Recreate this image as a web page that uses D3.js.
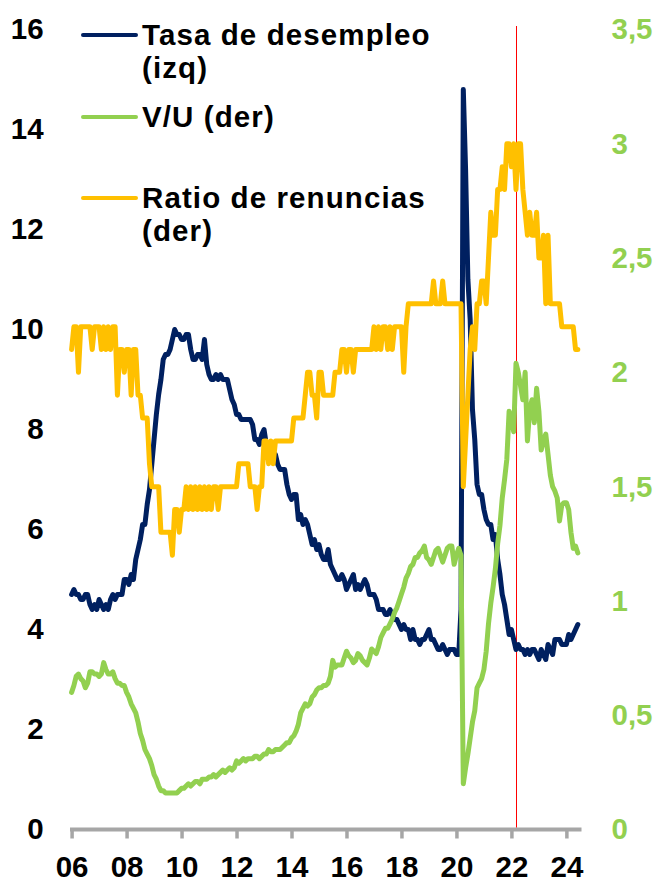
<!DOCTYPE html>
<html>
<head>
<meta charset="utf-8">
<script src="https://cdn.jsdelivr.net/npm/d3@7"></script>
<style>
    body { margin: 0; background: #fff; }
    svg { display: block; }
    text { font-family: "Liberation Sans", Arial, sans-serif; font-weight: bold; }
</style>
</head>
<body>
<div id="chart"></div>
<script>
'use strict';

// Monthly data, starting January 2006.
var startYear = 2006;

// Tasa de desempleo (%), left axis
var unemployment = [
    4.7, 4.8, 4.7, 4.7, 4.6, 4.6, 4.7, 4.7, 4.5, 4.4, 4.5, 4.4,
    4.6, 4.5, 4.4, 4.5, 4.4, 4.6, 4.7, 4.6, 4.7, 4.7, 4.7, 5.0,
    5.0, 4.9, 5.1, 5.0, 5.4, 5.6, 5.8, 6.1, 6.1, 6.5, 6.8, 7.3,
    7.8, 8.3, 8.7, 9.0, 9.4, 9.5, 9.5, 9.6, 9.8, 10.0, 9.9, 9.9,
    9.8, 9.8, 9.9, 9.9, 9.6, 9.4, 9.4, 9.5, 9.5, 9.4, 9.8, 9.3,
    9.1, 9.0, 9.0, 9.1, 9.0, 9.1, 9.0, 9.0, 9.0, 8.8, 8.6, 8.5,
    8.3, 8.3, 8.2, 8.2, 8.2, 8.2, 8.2, 8.1, 7.8, 7.8, 7.7, 7.9,
    8.0, 7.7, 7.5, 7.6, 7.5, 7.5, 7.3, 7.2, 7.2, 7.2, 6.9, 6.7,
    6.6, 6.7, 6.7, 6.2, 6.3, 6.1, 6.2, 6.1, 5.9, 5.7, 5.8, 5.6,
    5.7, 5.5, 5.4, 5.4, 5.6, 5.3, 5.2, 5.1, 5.0, 5.0, 5.1, 5.0,
    4.8, 4.9, 5.0, 5.1, 4.8, 4.9, 4.8, 4.9, 5.0, 4.9, 4.7, 4.7,
    4.7, 4.6, 4.4, 4.4, 4.4, 4.3, 4.3, 4.4, 4.3, 4.2, 4.2, 4.1,
    4.0, 4.1, 4.0, 4.0, 3.8, 4.0, 3.8, 3.8, 3.7, 3.8, 3.8, 3.9,
    4.0, 3.8, 3.8, 3.7, 3.6, 3.6, 3.7, 3.6, 3.5, 3.6, 3.6, 3.6,
    3.5, 3.5, 4.4, 14.8, 13.2, 11.0, 10.2, 8.4, 7.8, 6.9, 6.7, 6.7,
    6.4, 6.2, 6.1, 6.1, 5.8, 5.9, 5.4, 5.1, 4.7, 4.5, 4.2, 3.9,
    4.0, 3.8, 3.6, 3.7, 3.6, 3.6, 3.5, 3.6, 3.5, 3.6, 3.6, 3.5,
    3.4, 3.6, 3.5, 3.4, 3.7, 3.6, 3.5, 3.8, 3.8, 3.8, 3.7, 3.7,
    3.7, 3.9, 3.8, 3.9, 4.0, 4.1
];

// V/U (vacantes / desempleados), right axis
var vacanciesPerUnemployed = [
    0.60, 0.63, 0.67, 0.68, 0.66, 0.65, 0.62, 0.64, 0.69, 0.69, 0.68, 0.68,
    0.67, 0.68, 0.73, 0.70, 0.68, 0.68, 0.69, 0.66, 0.64, 0.64, 0.63, 0.63,
    0.60, 0.58, 0.55, 0.53, 0.51, 0.47, 0.42, 0.39, 0.35, 0.33, 0.31, 0.28,
    0.24, 0.22, 0.19, 0.17, 0.17, 0.16, 0.16, 0.16, 0.16, 0.16, 0.16, 0.17,
    0.18, 0.18, 0.19, 0.20, 0.19, 0.20, 0.21, 0.21, 0.20, 0.22, 0.22, 0.22,
    0.23, 0.23, 0.24, 0.23, 0.24, 0.25, 0.26, 0.25, 0.26, 0.27, 0.26, 0.27,
    0.30, 0.29, 0.30, 0.31, 0.30, 0.31, 0.31, 0.31, 0.32, 0.32, 0.31, 0.32,
    0.33, 0.33, 0.35, 0.34, 0.34, 0.35, 0.35, 0.35, 0.36, 0.37, 0.38, 0.38,
    0.40, 0.41, 0.43, 0.46, 0.51, 0.53, 0.55, 0.54, 0.55, 0.58, 0.59, 0.61,
    0.62, 0.62, 0.63, 0.63, 0.64, 0.67, 0.74, 0.71, 0.72, 0.72, 0.72, 0.75,
    0.78, 0.76, 0.75, 0.73, 0.74, 0.77, 0.76, 0.74, 0.73, 0.72, 0.75, 0.79,
    0.78, 0.77, 0.80, 0.84, 0.86, 0.88, 0.88, 0.90, 0.92, 0.95, 0.97, 1.00,
    1.03, 1.06, 1.10, 1.12, 1.15, 1.16, 1.19, 1.19, 1.21, 1.22, 1.24, 1.19,
    1.18, 1.16, 1.19, 1.22, 1.23, 1.20, 1.17, 1.20, 1.23, 1.24, 1.24, 1.16,
    1.20, 1.23, 1.20, 0.20, 0.27, 0.33, 0.40, 0.47, 0.52, 0.62, 0.64, 0.66,
    0.70, 0.78, 0.90, 0.99, 1.06, 1.14, 1.25, 1.33, 1.45, 1.53, 1.62, 1.83,
    1.80, 1.74, 2.04, 2.00, 1.94, 1.88, 2.00, 1.70, 1.84, 1.88, 1.78, 1.93,
    1.83, 1.66, 1.70, 1.73, 1.64, 1.55, 1.50, 1.48, 1.45, 1.35, 1.42, 1.43,
    1.43, 1.40, 1.30, 1.23, 1.24, 1.21
];

// Ratio de renuncias (%), right axis
var quitsRate = [
    2.1, 2.2, 2.2, 2.0, 2.2, 2.2, 2.2, 2.2, 2.2, 2.1, 2.2, 2.2,
    2.2, 2.1, 2.2, 2.1, 2.2, 2.1, 2.2, 2.2, 1.9, 2.1, 2.1, 2.0,
    2.1, 2.1, 1.9, 2.1, 2.1, 1.9, 1.9, 1.8, 1.8, 1.8, 1.6, 1.5,
    1.5, 1.5, 1.5, 1.3, 1.3, 1.3, 1.3, 1.3, 1.2, 1.4, 1.4, 1.3,
    1.4, 1.4, 1.5, 1.4, 1.5, 1.4, 1.5, 1.4, 1.5, 1.4, 1.5, 1.4,
    1.5, 1.4, 1.5, 1.5, 1.4, 1.5, 1.5, 1.5, 1.5, 1.5, 1.5, 1.5,
    1.5, 1.6, 1.6, 1.6, 1.6, 1.6, 1.5, 1.5, 1.5, 1.4, 1.5, 1.5,
    1.7, 1.7, 1.6, 1.7, 1.6, 1.7, 1.7, 1.7, 1.7, 1.7, 1.7, 1.7,
    1.7, 1.8, 1.8, 1.8, 1.8, 1.8, 1.9, 2.0, 2.0, 1.9, 1.9, 1.8,
    2.0, 2.0, 1.9, 1.9, 1.9, 1.9, 1.9, 2.0, 2.0, 2.0, 2.1, 2.1,
    2.0, 2.1, 2.1, 2.0, 2.1, 2.1, 2.1, 2.1, 2.1, 2.1, 2.1, 2.1,
    2.2, 2.1, 2.2, 2.1, 2.2, 2.2, 2.1, 2.2, 2.1, 2.2, 2.2, 2.2,
    2.2, 2.0, 2.2, 2.3, 2.3, 2.3, 2.3, 2.3, 2.3, 2.3, 2.3, 2.3,
    2.3, 2.3, 2.4, 2.3, 2.3, 2.3, 2.4, 2.3, 2.3, 2.3, 2.3, 2.3,
    2.3, 2.3, 2.3, 1.5, 1.7, 1.9, 2.1, 2.2, 2.1, 2.3, 2.3, 2.4,
    2.4, 2.3, 2.5, 2.7, 2.6, 2.6, 2.8, 2.8, 2.9, 2.8, 3.0, 3.0,
    2.9, 3.0, 2.8, 3.0, 3.0, 2.8, 2.7, 2.6, 2.7, 2.6, 2.6, 2.7,
    2.5, 2.5, 2.6, 2.3, 2.6, 2.3, 2.3, 2.3, 2.3, 2.3, 2.2, 2.2,
    2.2, 2.2, 2.2, 2.2, 2.1, 2.1
];

var xTickYears  = [2006, 2008, 2010, 2012, 2014, 2016, 2018, 2020, 2022, 2024];
var xTickLabels = ['06', '08', '10', '12', '14', '16', '18', '20', '22', '24'];
var leftTicks   = [0, 2, 4, 6, 8, 10, 12, 14, 16];
var rightTicks  = [0, 0.5, 1, 1.5, 2, 2.5, 3, 3.5];

// Vertical marker (March 2022)
var markerYear = 2022;
var markerMonth = 3;

var series = [
    {label: ['Tasa de desempleo', '(izq)'], values: unemployment, axis: 'left', color: '#002060'},
    {label: ['V/U (der)'], values: vacanciesPerUnemployed, axis: 'right', color: '#92d050'},
    {label: ['Ratio de renuncias', '(der)'], values: quitsRate, axis: 'right', color: '#ffc000'}
];

var width  = 667,
    height = 886,
    plot   = {left: 71.6, right: 581.5, top: 29.5, bottom: 829.5};

var svg = d3.select('#chart').append('svg')
    .attr('width', width)
    .attr('height', height);

var x = d3.scaleLinear()
    .domain([2006, 2024.55])
    .range([plot.left, plot.right]);

var yLeft = d3.scaleLinear()
    .domain([0, 16])
    .range([plot.bottom, plot.top]);

var yRight = d3.scaleLinear()
    .domain([0, 3.5])
    .range([plot.bottom, plot.top]);

var commaLocale = d3.formatLocale({decimal: ',', thousands: '.', grouping: [3], currency: ['', '']});

// Left axis (black labels)
var gLeft = svg.append('g')
    .attr('transform', 'translate(' + plot.left + ',0)')
    .call(d3.axisLeft(yLeft).tickValues(leftTicks).tickSize(0).tickPadding(28));
gLeft.select('.domain').remove();
gLeft.selectAll('text')
    .style('font-size', '29.5px')
    .style('fill', '#000');

// Right axis (green labels)
var gRight = svg.append('g')
    .attr('transform', 'translate(' + plot.right + ',0)')
    .call(d3.axisRight(yRight).tickValues(rightTicks).tickSize(0).tickPadding(30)
        .tickFormat(commaLocale.format('~g')));
gRight.select('.domain').remove();
gRight.selectAll('text')
    .style('font-size', '29.5px')
    .style('fill', '#92d050');

// Bottom axis
var gBottom = svg.append('g')
    .attr('transform', 'translate(0,' + plot.bottom + ')')
    .call(d3.axisBottom(x)
        .tickValues(xTickYears)
        .tickFormat(function (d, i) { return xTickLabels[i]; })
        .tickSizeInner(9)
        .tickSizeOuter(0)
        .tickPadding(18));
gBottom.select('.domain')
    .attr('d', 'M' + (plot.left - 1.6) + ',0H' + plot.right)
    .style('stroke', '#a6a6a6')
    .style('stroke-width', 4);
gBottom.selectAll('.tick line')
    .style('stroke', '#a6a6a6')
    .style('stroke-width', 3.5);
gBottom.selectAll('text')
    .style('font-size', '29.5px')
    .style('fill', '#000');

// Vertical marker, snapped to the pixel grid so it stays a crisp 1px line
var markerX = Math.round(x(markerYear + (markerMonth - 1) / 12)) + 0.5;
svg.append('line')
    .attr('x1', markerX)
    .attr('x2', markerX)
    .attr('y1', 26)
    .attr('y2', plot.bottom - 2)
    .style('stroke', '#ff0000')
    .style('stroke-width', 1);

// Lines
series.forEach(function (s) {
    var yScale = s.axis === 'left' ? yLeft : yRight;
    var line = d3.line()
        .x(function (d, i) { return x(startYear + i / 12); })
        .y(function (d) { return yScale(d); });

    svg.append('path')
        .datum(s.values)
        .attr('d', line)
        .style('fill', 'none')
        .style('stroke', s.color)
        .style('stroke-width', 5)
        .style('stroke-linejoin', 'round')
        .style('stroke-linecap', 'round');
});

// Legend
var legendRows = [35, 117, 198];
var legend = svg.append('g');

series.forEach(function (s, i) {
    var ly = legendRows[i];

    legend.append('line')
        .attr('x1', 83)
        .attr('x2', 136)
        .attr('y1', ly)
        .attr('y2', ly)
        .style('stroke', s.color)
        .style('stroke-width', 4)
        .style('stroke-linecap', 'round');

    legend.append('text')
        .attr('x', 142)
        .attr('y', ly + 10)
        .style('font-size', '29.5px')
        .style('letter-spacing', '1.1px')
        .style('fill', '#000')
        .selectAll('tspan')
        .data(s.label)
        .enter().append('tspan')
        .attr('x', 142)
        .attr('dy', function (d, j) { return j === 0 ? 0 : 33; })
        .text(function (d) { return d; });
});
</script>
</body>
</html>
